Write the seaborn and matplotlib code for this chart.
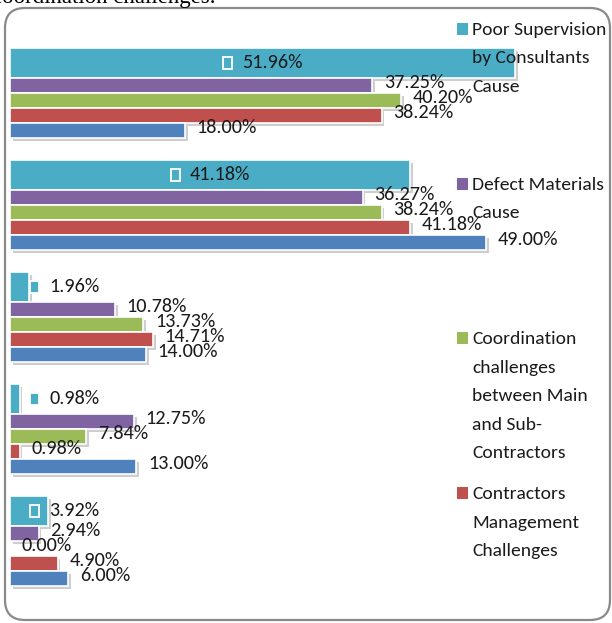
import matplotlib
matplotlib.use("Agg")
import matplotlib.pyplot as plt
import matplotlib.patheffects as pe
from matplotlib.patches import FancyBboxPatch, Rectangle
from matplotlib.offsetbox import AnnotationBbox, DrawingArea, HPacker, TextArea
from matplotlib.transforms import IdentityTransform
import pandas as pd
import seaborn as sns

# data (category axis labels are not shown)
categories = ["Factor 1", "Factor 2", "Factor 3", "Factor 4", "Factor 5"]
series_names = [
    "Poor Supervision by Consultants Cause",
    "Defect Materials Cause",
    "Coordination challenges between Main and Sub-Contractors",
    "Contractors Management Challenges",
    "Other",
]
legend_labels = [
    "Poor Supervision\nby Consultants\nCause",
    "Defect Materials\nCause",
    "Coordination\nchallenges\nbetween Main\nand Sub-\nContractors",
    "Contractors\nManagement\nChallenges",
]
poor_supervision = [51.96, 41.18, 1.96, 0.98, 3.92]
defect_materials = [37.25, 36.27, 10.78, 12.75, 2.94]
coordination = [40.20, 38.24, 13.73, 7.84, 0.00]
contractors_mgmt = [38.24, 41.18, 14.71, 0.98, 4.90]
other = [18.00, 49.00, 14.00, 13.00, 6.00]
colors = ["#4BACC6", "#8064A2", "#9BBB59", "#C0504D", "#4F81BD"]

values = [poor_supervision, defect_materials, coordination, contractors_mgmt, other]
df = pd.DataFrame(
    [(c, s, v[i]) for s, v in zip(series_names, values) for i, c in enumerate(categories)],
    columns=["category", "series", "value"],
)

sns.set_theme(style="white")
plt.rcParams["font.family"] = ["Carlito", "DejaVu Sans"]
TXT = "#1a1a1a"
FS = 14.6

W, H = 612, 623
fig = plt.figure(figsize=(W / 100, H / 100), dpi=100)
fig.patch.set_facecolor("white")
ax = fig.add_axes([10 / W, 0, 602 / W, 1])

sns.barplot(
    data=df, x="value", y="category", hue="series", hue_order=series_names,
    palette=colors, orient="h", width=0.8, dodge=True, saturation=1,
    edgecolor="white", linewidth=1.2, legend=False, ax=ax,
)

# first series is drawn twice as thick as the others (6 slots per group)
slot = 0.8 / 6
shadow = [pe.SimplePatchShadow(offset=(2, -2.5), shadow_rgbFace="0.45", alpha=0.35), pe.Normal()]
for k, cont in enumerate(ax.containers):
    start, n = (0, 2) if k == 0 else (k + 1, 1)
    for i, bar in enumerate(cont):
        bar.set_y(i - 0.4 + start * slot)
        bar.set_height(n * slot)
        bar.set_path_effects(shadow)

ax.set_xlim(0, 602 / 9.72)
ax.set_ylim(-0.4 - 48 / 112 + H / 112, -0.4 - 48 / 112)
ax.axis("off")

# data labels
for k, vals in enumerate(values):
    for i, v in enumerate(vals):
        if k == 0:
            yc = i - 0.4 + slot
            da = DrawingArea(7.5, 9.5, 0, 0)
            da.add_artist(Rectangle((0.6, 0.6), 6.3, 8.3, fc=colors[0], ec="white", lw=1.3))
            ta = TextArea(f"{v:.2f}%", textprops=dict(fontsize=FS, color=TXT))
            box = HPacker(children=[da, ta], align="center", pad=0, sep=6.5)
            ab = AnnotationBbox(box, (max(v / 2, 5.6), yc), frameon=False,
                                box_alignment=(0.5, 0.5), pad=0)
            ax.add_artist(ab)
        else:
            yc = i - 0.4 + (k + 1.5) * slot - 0.025
            ax.text(v + 1.2, yc, f"{v:.2f}%", ha="left", va="center",
                    fontsize=FS, color=TXT)

# legend (only the first four entries fit in the frame)
for k, lab in enumerate(legend_labels):
    y0 = 29 + k * 154.7
    fig.add_artist(Rectangle((457, H - y0 - 6), 11, 12, fc=colors[k], ec="none",
                             transform=IdentityTransform()))
    fig.text(472 / W, 1 - (y0 - 7) / H, lab, ha="left", va="top",
             fontsize=14, color=TXT, linespacing=1.96)

# chart frame and clipped caption above it
fig.add_artist(FancyBboxPatch((5, 3), 605, 612, boxstyle="round,pad=0,rounding_size=20",
                              transform=IdentityTransform(), fill=False,
                              ec="#8a8a8a", lw=1.6))
fig.text(-8 / W, 1 - 3 / H, "coordination challenges.", ha="left", va="baseline",
         fontsize=16.5, family="Liberation Serif", color="black")

fig.savefig("out.png", dpi=100)
